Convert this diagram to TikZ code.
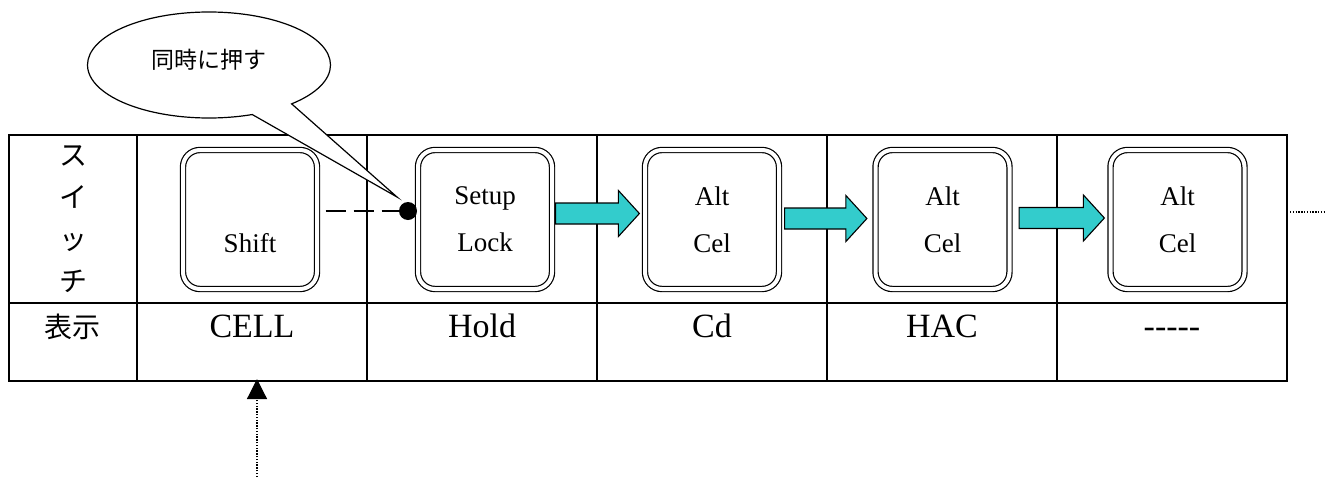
\documentclass[tikz,border=0pt]{standalone}
\usepackage{fontspec}
\setmainfont{Liberation Serif}
\newfontfamily\jp{Noto Sans CJK JP}
\usetikzlibrary{shapes.callouts,arrows.meta,calc}
\definecolor{fatcyan}{HTML}{33CCCC}
\newcommand\fatarr[2]{%
  \draw[fatstyle] let \p1=(#1), \p2=(#2) in
    (\x1,\y1-10.5pt) -- (\x2-21pt,\y1-10.5pt) -- (\x2-21pt,\y1-23pt) -- (\x2,\y1)
    -- (\x2-21pt,\y1+23pt) -- (\x2-21pt,\y1+10.5pt) -- (\x1,\y1+10.5pt) -- cycle;}
\begin{document}
\begin{tikzpicture}[x=1pt,y=-1pt,
  gridline/.style={line width=1.8pt},
  key/.style={draw, double, line width=1.2pt, double distance=4pt, rounded corners=17pt,
    minimum width=134pt, minimum height=139pt, inner sep=0pt, align=center,
    font=\fontsize{27}{47}\selectfont},
  fatstyle/.style={fill=fatcyan, draw=black, line width=1.1pt},
  jpbig/.style={inner sep=0pt, align=center, font=\jp\fontsize{28}{42}\selectfont},
  val/.style={inner sep=0pt, anchor=base, font=\fontsize{34}{34}\selectfont},
  dashline/.style={line width=2pt, dash pattern=on 20pt off 8pt},
  fine/.style={line width=1.2pt, dash pattern=on 1.4pt off 1.4pt}]
\useasboundingbox (0,0) rectangle (1326,477);
% table
\draw[gridline] (9,135) rectangle (1287,381);
\draw[gridline] (9,303) -- (1287,303);
\foreach \x in {137,367,597,827,1057} \draw[gridline] (\x,135) -- (\x,381);
% row labels
\node[jpbig] (sw) at (73,219) {ス\\イ\\ッ\\チ};
\node[jpbig] (disp) at (72,327) {表示};
% keys
\node[key] (k1) at (250,219.5) {\vphantom{Alt}\\Shift};
\node[key] (k2) at (485,219.5) {Setup\\Lock};
\node[key] (k3) at (712,219.5) {Alt\\Cel};
\node[key] (k4) at (942.5,219.5) {Alt\\Cel};
\node[key] (k5) at (1177.5,219.5) {Alt\\Cel};
% values
\node[val] (v1) at (252,337.5) {CELL};
\node[val] (v2) at (482,337.5) {Hold};
\node[val] (v3) at (712,337.5) {Cd};
\node[val] (v4) at (942,337.5) {HAC};
\node[val] (v5) at (1172,337.5) {-{}-{}-{}-{}-};
% fat arrows
\fatarr{$(k2.east)+(3,-6)$}{$(k3.west)+(-5,-6)$}
\fatarr{$(k3.east)+(5,-1)$}{$(k4.west)+(-8,-1)$}
\fatarr{$(k4.east)+(9,-1.5)$}{$(k5.west)+(-5.5,-1.5)$}
% dot and dashed link
\node[circle, fill=black, inner sep=0pt, minimum size=18pt] (dot) at (408,211) {};
\draw[dashline] ($(k1.east |- dot)+(8,0)$) -- (dot);
% callout
\node[ellipse callout, draw, line width=1.2pt, fill=white, minimum width=243pt, minimum height=106pt,
  callout absolute pointer={($(dot)+(-11,-14)$)}, callout pointer arc=22, inner sep=0pt,
  font=\jp\fontsize{23}{23}\selectfont] (bubble) at (209,65) {\raisebox{5pt}[\height][\depth]{同時に押す}};
% dotted lines
\coordinate (rs) at (1290,212);
\coordinate (re) at (1326,212);
\draw[fine] (rs) -- (re);
\coordinate (src) at (257,477);
\coordinate (tgt) at (257,379);
\draw[fine, -{Triangle[width=20pt,length=20pt]}] (src) -- (tgt);
\end{tikzpicture}
\end{document}
